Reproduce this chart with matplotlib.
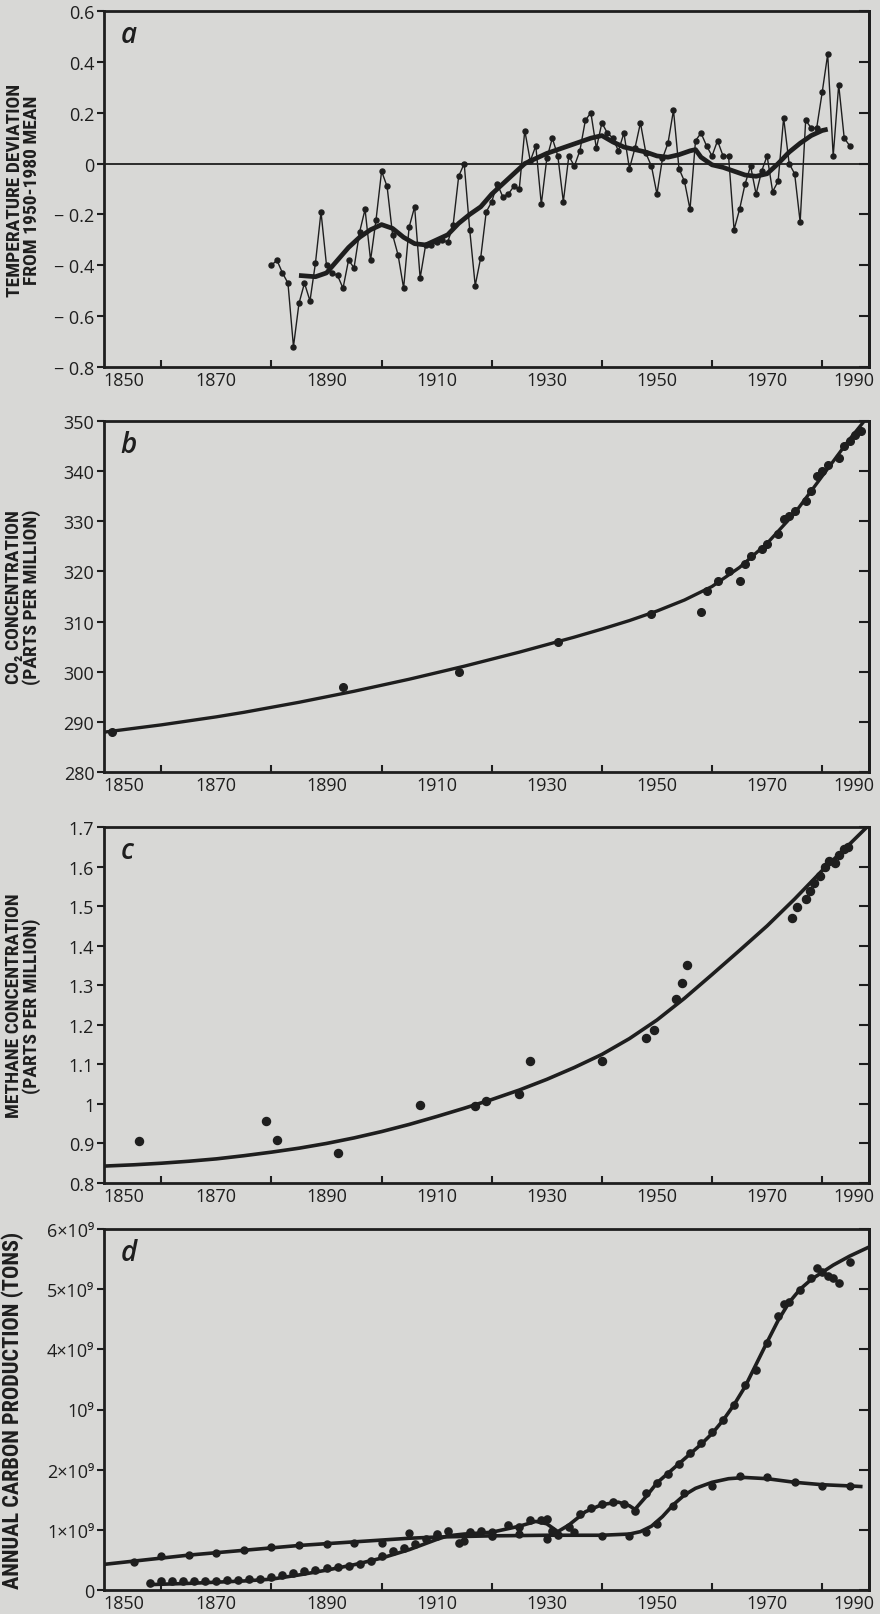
import numpy as np
import matplotlib
matplotlib.use('Agg')
import matplotlib.pyplot as plt
from matplotlib import font_manager

# --- panel a: temperature deviation from 1950-1980 mean ---
temp_years = np.arange(1880, 1986)
temp_dev = [
    -0.40, -0.38, -0.43, -0.47, -0.72, -0.55, -0.47, -0.54, -0.39, -0.19,
    -0.40, -0.43, -0.44, -0.49, -0.38, -0.41, -0.27, -0.18, -0.38, -0.22,
    -0.03, -0.09, -0.28, -0.36, -0.49, -0.25, -0.17, -0.45, -0.32, -0.32,
    -0.31, -0.30, -0.31, -0.24, -0.05, 0.00, -0.26, -0.48, -0.37, -0.19,
    -0.15, -0.08, -0.13, -0.12, -0.09, -0.10, 0.13, 0.01, 0.07, -0.16,
    0.02, 0.10, 0.03, -0.15, 0.03, -0.01, 0.05, 0.17, 0.20, 0.06,
    0.16, 0.12, 0.10, 0.05, 0.12, -0.02, 0.06, 0.16, 0.04, -0.01,
    -0.12, 0.02, 0.08, 0.21, -0.02, -0.07, -0.18, 0.09, 0.12, 0.07,
    0.03, 0.09, 0.03, 0.03, -0.26, -0.18, -0.08, -0.01, -0.12, -0.03,
    0.03, -0.11, -0.07, 0.18, 0.00, -0.04, -0.23, 0.17, 0.14, 0.14,
    0.28, 0.43, 0.03, 0.31, 0.10, 0.07,
]
smooth_years = [1885, 1888, 1890, 1892, 1894, 1896, 1898, 1900, 1902, 1904,
                1906, 1908, 1910, 1912, 1914, 1916, 1918, 1920, 1922, 1924,
                1926, 1928, 1930, 1932, 1934, 1936, 1938, 1940, 1942, 1944,
                1946, 1948, 1950, 1952, 1954, 1956, 1957, 1958, 1960, 1962,
                1964, 1966, 1968, 1970, 1972, 1974, 1976, 1978, 1980, 1981]
smooth_dev = [-0.44, -0.445, -0.43, -0.38, -0.33, -0.29, -0.26, -0.24, -0.255, -0.29,
              -0.315, -0.32, -0.30, -0.28, -0.235, -0.20, -0.17, -0.12, -0.08, -0.04,
              0.00, 0.02, 0.04, 0.055, 0.07, 0.085, 0.10, 0.11, 0.085, 0.065,
              0.055, 0.045, 0.03, 0.025, 0.035, 0.05, 0.055, 0.025, -0.005, -0.015,
              -0.03, -0.045, -0.05, -0.04, 0.00, 0.045, 0.08, 0.11, 0.13, 0.135]

# --- panel b: CO2 concentration (ppm) ---
co2_fit_years = [1850, 1855, 1860, 1865, 1870, 1875, 1880, 1885, 1890, 1895,
                 1900, 1905, 1910, 1915, 1920, 1925, 1930, 1935, 1940, 1945,
                 1950, 1955, 1960, 1965, 1970, 1975, 1980, 1985, 1987.5]
co2_fit = [288.0, 288.7, 289.4, 290.2, 291.0, 291.9, 292.9, 293.9, 295.0, 296.1,
           297.3, 298.5, 299.8, 301.1, 302.5, 303.9, 305.4, 306.9, 308.5, 310.2,
           312.1, 314.3, 317.0, 320.8, 325.6, 331.6, 339.0, 346.4, 349.8]
co2_obs_years = [1851, 1893, 1914, 1932, 1949, 1958, 1959, 1961, 1963, 1965,
                 1966, 1967, 1969, 1970, 1972, 1973, 1974, 1975, 1977, 1978,
                 1979, 1980, 1981, 1983, 1984, 1985, 1986, 1987]
co2_obs = [288.0, 297.0, 300.0, 306.0, 311.5, 312.0, 316.0, 318.0, 320.0, 318.0,
           321.5, 323.0, 324.5, 325.5, 327.5, 330.5, 331.0, 332.0, 334.0, 336.0,
           339.0, 340.0, 341.3, 342.6, 345.0, 346.0, 347.3, 348.0]

# --- panel c: methane concentration (ppm) ---
ch4_fit_years = [1850, 1855, 1860, 1865, 1870, 1875, 1880, 1885, 1890, 1895,
                 1900, 1905, 1910, 1915, 1920, 1925, 1930, 1935, 1940, 1945,
                 1950, 1955, 1960, 1965, 1970, 1975, 1980, 1985, 1988.5]
ch4_fit = [0.843, 0.846, 0.850, 0.855, 0.861, 0.869, 0.878, 0.888, 0.900, 0.914,
           0.930, 0.948, 0.968, 0.989, 1.011, 1.035, 1.062, 1.092, 1.125, 1.165,
           1.212, 1.267, 1.327, 1.388, 1.450, 1.518, 1.590, 1.657, 1.705]
ch4_obs_years = [1856, 1879, 1881, 1892, 1907, 1917, 1919, 1925, 1927, 1940,
                 1948, 1949.5, 1953.5, 1954.5, 1955.5, 1974.5, 1975.5, 1977, 1977.7, 1978.6,
                 1979.6, 1980.5, 1981.3, 1982.4, 1983, 1984, 1984.7]
ch4_obs = [0.905, 0.956, 0.909, 0.875, 0.997, 0.994, 1.007, 1.024, 1.109, 1.109,
           1.167, 1.187, 1.266, 1.306, 1.351, 1.469, 1.497, 1.517, 1.538, 1.558,
           1.577, 1.598, 1.615, 1.610, 1.628, 1.645, 1.649]

# --- panel d: annual carbon production (10^9 tons) ---
d1_fit_years = [1858, 1865, 1870, 1875, 1880, 1885, 1890, 1895, 1900, 1905,
                1910, 1912, 1915, 1920, 1925, 1928, 1930, 1932, 1934, 1937,
                1940, 1943, 1945, 1946, 1948, 1950, 1952, 1955, 1958, 1960,
                1962, 1964, 1966, 1968, 1970, 1972, 1974, 1976, 1978, 1980,
                1982, 1985, 1988.5]
d1_fit = [0.09, 0.11, 0.13, 0.15, 0.18, 0.25, 0.33, 0.42, 0.53, 0.67,
          0.84, 0.90, 0.93, 0.96, 1.06, 1.14, 1.10, 0.97, 1.08, 1.30,
          1.42, 1.46, 1.40, 1.34, 1.55, 1.78, 1.94, 2.18, 2.42, 2.60,
          2.82, 3.08, 3.38, 3.75, 4.12, 4.48, 4.78, 5.00, 5.16, 5.28,
          5.40, 5.55, 5.70]
d1_obs_years = [1858, 1860, 1862, 1864, 1866, 1868, 1870, 1872, 1874, 1876,
                1878, 1880, 1882, 1884, 1886, 1888, 1890, 1892, 1894, 1896,
                1898, 1900, 1902, 1904, 1906, 1908, 1910, 1912, 1914, 1916,
                1918, 1920, 1923, 1925, 1927, 1929, 1930, 1931, 1932, 1934,
                1936, 1938, 1940, 1942, 1944, 1946, 1948, 1950, 1952, 1954,
                1956, 1958, 1960, 1962, 1964, 1966, 1968, 1970, 1972, 1973,
                1974, 1976, 1978, 1979, 1980, 1981, 1982, 1983, 1985]
d1_obs = [0.12, 0.15, 0.15, 0.15, 0.15, 0.15, 0.15, 0.17, 0.17, 0.18,
          0.19, 0.21, 0.25, 0.29, 0.31, 0.33, 0.36, 0.38, 0.40, 0.43,
          0.49, 0.57, 0.64, 0.70, 0.76, 0.85, 0.93, 0.98, 0.78, 0.96,
          0.98, 0.89, 1.08, 1.05, 1.16, 1.16, 1.18, 0.98, 0.92, 1.04,
          1.26, 1.37, 1.43, 1.46, 1.43, 1.32, 1.62, 1.78, 1.92, 2.10,
          2.28, 2.44, 2.62, 2.82, 3.08, 3.40, 3.66, 4.10, 4.55, 4.75,
          4.78, 4.98, 5.18, 5.35, 5.28, 5.22, 5.18, 5.10, 5.45]
d2_fit_years = [1850, 1855, 1860, 1865, 1870, 1875, 1880, 1885, 1890, 1895,
                1900, 1905, 1910, 1920, 1930, 1940, 1945, 1947, 1949, 1951,
                1953, 1955, 1957, 1960, 1963, 1966, 1970, 1975, 1980, 1985,
                1987]
d2_fit = [0.43, 0.48, 0.53, 0.58, 0.62, 0.66, 0.70, 0.74, 0.77, 0.80,
          0.83, 0.86, 0.88, 0.90, 0.91, 0.91, 0.93, 0.97, 1.06, 1.22,
          1.42, 1.58, 1.69, 1.79, 1.85, 1.87, 1.85, 1.79, 1.75, 1.73,
          1.72]
d2_obs_years = [1855, 1860, 1865, 1870, 1875, 1880, 1885, 1890, 1895, 1900,
                1905, 1910, 1915, 1920, 1925, 1930, 1935, 1940, 1945, 1948,
                1950, 1953, 1955, 1960, 1965, 1970, 1975, 1980, 1985]
d2_obs = [0.46, 0.57, 0.59, 0.61, 0.67, 0.71, 0.75, 0.76, 0.78, 0.78,
          0.94, 0.90, 0.82, 0.96, 0.93, 0.84, 0.96, 0.90, 0.90, 0.96,
          1.09, 1.40, 1.62, 1.73, 1.90, 1.87, 1.79, 1.73, 1.73]

# tick labels
a_ticks = [0.6, 0.4, 0.2, 0, -0.2, -0.4, -0.6, -0.8]
a_labels = ['0.6', '0.4', '0.2', '0', '\u2212 0.2', '\u2212 0.4', '\u2212 0.6', '\u2212 0.8']
b_ticks = [350, 340, 330, 320, 310, 300, 290, 280]
c_ticks = [1.7, 1.6, 1.5, 1.4, 1.3, 1.2, 1.1, 1.0, 0.9, 0.8]
c_labels = ['1.7', '1.6', '1.5', '1.4', '1.3', '1.2', '1.1', '1', '0.9', '0.8']
d_ticks = [6, 5, 4, 3, 2, 1, 0]
d_labels = ['6\u00d710\u2079', '5\u00d710\u2079', '4\u00d710\u2079', '10\u2079',
            '2\u00d710\u2079', '1\u00d710\u2079', '0']
year_labels = ['1850', '1870', '1890', '1910', '1930', '1950', '1970', '1990']

INK = '#1e1e1e'
PAPER = '#d8d8d6'

installed = {f.name for f in font_manager.fontManager.ttflist}
tick_family = ['Open Sans', 'DejaVu Sans'] if 'Open Sans' in installed else ['DejaVu Sans']
label_family, label_size, d_label_size = ['DejaVu Sans'], 11.8, 14.5
for narrow in ['Liberation Sans Narrow', 'DejaVu Sans Condensed', 'Roboto Condensed']:
    if narrow in installed:
        label_family, label_size, d_label_size = [narrow, 'DejaVu Sans'], 14, 16
        break

plt.rcParams['font.family'] = tick_family

fig = plt.figure(figsize=(8.8, 16.15), dpi=100, facecolor=PAPER)

left, width = 104 / 880, 765 / 880
boxes = [(12, 368), (422, 773), (828, 1184), (1230, 1591)]
axes = []
for top, bot in boxes:
    ax = fig.add_axes([left, 1 - bot / 1615, width, (bot - top) / 1615])
    ax.set_facecolor(PAPER)
    axes.append(ax)


def style(ax, ticks, labels, ylim, ylabel, label_x, letter, lsize):
    ax.set_xlim(1849.6, 1988.5)
    ax.set_ylim(*ylim)
    for s in ax.spines.values():
        s.set_linewidth(2.0)
        s.set_color(INK)
    # decade ticks inside, labels placed separately
    ax.set_xticks(np.arange(1860, 1990, 10), minor=True)
    ax.set_xticks([1853.2, 1870, 1890, 1910, 1930, 1950, 1970, 1985.8])
    ax.set_xticklabels(year_labels, fontsize=13, color=INK)
    ax.tick_params(axis='x', which='minor', direction='in', length=5, width=1.5,
                   color=INK)
    ax.tick_params(axis='x', which='major', length=0, pad=3)
    ax.set_yticks(ticks)
    ax.set_yticklabels(labels, fontsize=13, color=INK)
    ax.tick_params(axis='y', direction='out', length=5, width=1.5, pad=2,
                   color=INK)
    sec = ax.secondary_yaxis('right')
    sec.set_yticks(ticks)
    sec.tick_params(axis='y', direction='in', length=7, width=1.5,
                    labelright=False, color=INK)
    sec.spines['right'].set_linewidth(2.0)
    ax.set_ylabel(ylabel, family=label_family, fontsize=lsize,
                  fontweight='bold', fontstretch='condensed', color=INK,
                  linespacing=0.9)
    ax.yaxis.set_label_coords(label_x, 0.5)
    ax.text(0.022, 0.975, letter, transform=ax.transAxes, va='top', ha='left',
            fontsize=20, style='italic', fontweight='semibold', color=INK)


# a
ax = axes[0]
ax.axhline(0, color=INK, lw=1.3)
ax.plot(temp_years, temp_dev, color=INK, lw=1.0, marker='o', ms=3.6,
        mfc=INK, mec=INK)
ax.plot(smooth_years, smooth_dev, color=INK, lw=3.4, solid_capstyle='butt')
style(ax, a_ticks, a_labels, (-0.8, 0.6),
      'TEMPERATURE DEVIATION\nFROM 1950-1980 MEAN', -0.083, 'a', label_size)

# b
ax = axes[1]
ax.plot(co2_fit_years, co2_fit, color=INK, lw=2.4)
ax.plot(co2_obs_years, co2_obs, 'o', color=INK, ms=5.5)
style(ax, b_ticks, [str(t) for t in b_ticks], (280, 350),
      'CO\u2082 CONCENTRATION\n(PARTS PER MILLION)', -0.083, 'b', label_size)

# c
ax = axes[2]
ax.plot(ch4_fit_years, ch4_fit, color=INK, lw=2.6)
ax.plot(ch4_obs_years, ch4_obs, 'o', color=INK, ms=5.8)
style(ax, c_ticks, c_labels, (0.8, 1.7),
      'METHANE CONCENTRATION\n(PARTS PER MILLION)', -0.083, 'c', label_size)

# d
ax = axes[3]
ax.plot(d1_fit_years, d1_fit, color=INK, lw=2.6)
ax.plot(d1_obs_years, d1_obs, 'o', color=INK, ms=5.2)
ax.plot(d2_fit_years, d2_fit, color=INK, lw=2.6)
ax.plot(d2_obs_years, d2_obs, 'o', color=INK, ms=5.0)
style(ax, d_ticks, d_labels, (0, 6),
      'ANNUAL CARBON PRODUCTION (TONS)', -0.105, 'd', d_label_size)

fig.savefig('out.png', dpi=100, facecolor=PAPER)
